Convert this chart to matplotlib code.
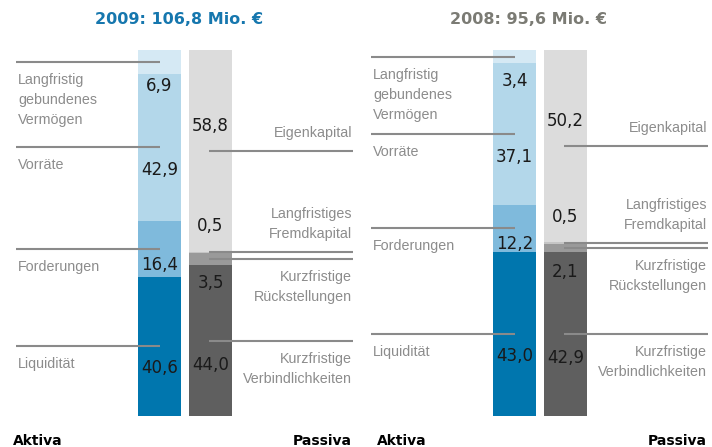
import numpy as np
import matplotlib.pyplot as plt

# Bilanzstruktur 2009 / 2008 (Mio. EUR)
titles = ["2009: 106,8 Mio. €", "2008: 95,6 Mio. €"]
title_colors = ["#1677ae", "#7b7b74"]

aktiva_labels = ["Liquidität", "Forderungen", "Vorräte", "Langfristig\ngebundenes\nVermögen"]
aktiva_2009 = [40.6, 16.4, 42.9, 6.9]
aktiva_2008 = [43.0, 12.2, 37.1, 3.4]

passiva_labels = ["Kurzfristige\nVerbindlichkeiten", "Kurzfristige\nRückstellungen",
                  "Langfristiges\nFremdkapital", "Eigenkapital"]
passiva_2009 = [44.0, 3.5, 0.5, 58.8]
passiva_2008 = [42.9, 2.1, 0.5, 50.2]

aktiva_colors = ["#0076ae", "#7fbadc", "#b3d7ea", "#d5e9f4"]
passiva_colors = ["#5f5f5f", "#9a9a9a", "#c5c5c5", "#dcdcdc"]

# layout (pixels)
num_off_aktiva = [22, 16, 23, 24]
num_off_passiva = [24, 24, -26, -25]
passiva_above = [False, False, True, True]
title_x = [179, 529]
aktiva_x = [13, 377]

label_font = dict(family="Liberation Sans", fontsize=10.3, color="#8c8c8c")
num_font = dict(family="DejaVu Sans", fontsize=12, color="#1a1a1a")

fig = plt.figure(figsize=(7.12, 4.47), dpi=100)

panels = [(aktiva_2009, passiva_2009), (aktiva_2008, passiva_2008)]
for p, (akt, pas) in enumerate(panels):
    total = sum(akt)
    ax = fig.add_axes([p * 355 / 712, 31 / 447, 356 / 712, 366 / 447])
    ax.set_xlim(0, 356)
    ax.set_ylim(0, total)
    ax.axis("off")

    for vals, colors, xc in [(akt, aktiva_colors, 159.5), (pas, passiva_colors, 210.5)]:
        bottoms = np.concatenate([[0], np.cumsum(vals)[:-1]])
        ax.bar(xc, vals, bottom=bottoms, width=43, color=colors, linewidth=0, zorder=1)

    # Aktiva: lines, labels, values
    bottoms = np.concatenate([[0], np.cumsum(akt)[:-1]])
    for i, v in enumerate(akt):
        yc = bottoms[i] + v / 2
        ax.hlines(yc, 16, 160, color="#8a8a8a", lw=1.5, zorder=3)
        for k, line in enumerate(aktiva_labels[i].split("\n")):
            ax.annotate(line, (18, yc), xytext=(0, -18 - 20 * k), textcoords="offset pixels",
                        ha="left", va="center", **label_font)
        ax.annotate(f"{v:.1f}".replace(".", ","), (159.5, yc), xytext=(0, -num_off_aktiva[i]),
                    textcoords="offset pixels", ha="center", va="center", zorder=4, **num_font)

    # Passiva
    bottoms = np.concatenate([[0], np.cumsum(pas)[:-1]])
    for i, v in enumerate(pas):
        yc = bottoms[i] + v / 2
        ax.hlines(yc, 209, 353, color="#8a8a8a", lw=1.5, zorder=3)
        lines = passiva_labels[i].split("\n")
        for k, line in enumerate(lines):
            if passiva_above[i]:
                dy = 18 + 20 * (len(lines) - 1 - k)
            else:
                dy = -18 - 20 * k
            ax.annotate(line, (352, yc), xytext=(0, dy), textcoords="offset pixels",
                        ha="right", va="center", **label_font)
        ax.annotate(f"{v:.1f}".replace(".", ","), (210.5, yc), xytext=(0, -num_off_passiva[i]),
                    textcoords="offset pixels", ha="center", va="center", zorder=4, **num_font)

    fig.text(title_x[p] / 712, 1 - 20 / 447, titles[p], ha="center", va="center",
             family="DejaVu Sans", fontweight="bold", fontsize=11.5, color=title_colors[p])
    fig.text(aktiva_x[p] / 712, 2 / 447, "Aktiva", ha="left", va="baseline",
             family="DejaVu Sans", fontweight="bold", fontsize=10, color="black")
    fig.text((p * 355 + 352) / 712, 2 / 447, "Passiva", ha="right", va="baseline",
             family="DejaVu Sans", fontweight="bold", fontsize=10, color="black")

fig.savefig("out.png", dpi=100)
